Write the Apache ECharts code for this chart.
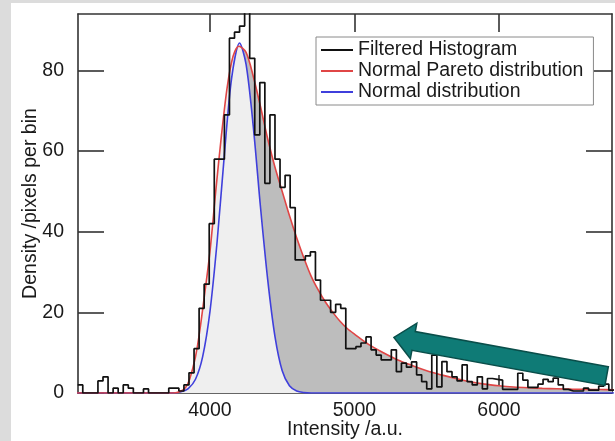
<!DOCTYPE html>
<html><head><meta charset="utf-8">
<script src="https://cdn.jsdelivr.net/npm/echarts@6/dist/echarts.min.js"></script>
<style>html,body{margin:0;padding:0;background:#dcdcdc;}#c{width:615px;height:441px;}</style>
</head><body><div id="c"></div>
<script>
// ---- data ----
const histStart = 3085;
const binWidth = 35;
const histCounts = [
  2, 0, 0, 0, 3, 4, 0, 1.2, 0, 2, 1.2, 0, 0, 1, 0, 0, 0, 0, 1.2, 1.2,
  0.5, 2, 5, 11, 21, 27, 42, 58, 58, 69, 88, 89.5, 91, 97, 83, 64, 77, 52, 69, 58,
  51, 54, 46, 33, 33, 34, 35, 28, 23, 23, 20, 22, 21, 11, 11, 11.5, 12.4, 13.9, 10.7, 9.4,
  8.2, 8.2, 10.7, 5.3, 7.4, 6.4, 7.7, 4.5, 2.8, 1, 9.4, 1.5, 7.8, 5.3, 4, 3, 7, 2.8, 2, 4,
  1, 3.6, 3.4, 3.2, 0.9, 0.9, 0.9, 4.9, 3.2, 1.4, 1.4, 2.2, 3.4, 2.8, 3.7, 2, 0.9, 0.5, 0.5, 0.5,
  1.2, 0.7, 0.7, 1.7, 2.2, 0.7
];
const paretoX = [3000, 3750, 3790, 3830, 3860, 3900, 3930, 3965, 4000, 4040, 4080, 4120, 4160, 4200, 4250,
  4300, 4350, 4400, 4450, 4500, 4550, 4600, 4650, 4700, 4750, 4800, 4850, 4900, 4950, 5000,
  5100, 5200, 5300, 5400, 5500, 5600, 5700, 5800, 5900, 6000, 6100, 6200, 6300, 6400, 6500, 6600, 6700, 6800];
const paretoY = [0, 0, 0.3, 1.3, 3.5, 9, 15.5, 25, 35, 50, 64, 76, 83.5, 86, 84.5,
  78.5, 71, 63, 56, 50, 44, 38.5, 33.5, 29, 25.5, 22.5, 20, 17.8, 16, 14.6,
  12, 10, 8.2, 6.8, 5.5, 4.5, 3.6, 2.8, 2.2, 1.8, 1.5, 1.3, 1.15, 1.05, 0.95, 0.9, 0.85, 0.8];
const normalX = [3000, 3750, 3800, 3850, 3900, 3950, 4000, 4050, 4100, 4150, 4205, 4250, 4300, 4350, 4400,
  4450, 4500, 4550, 4600, 4650, 4700, 6800];
const normalY = [0, 0, 0.3, 1.1, 3.4, 9.1, 20.2, 37.7, 59.2, 78.1, 86.8, 81.5, 66, 46, 28,
  14, 5.5, 1.8, 0.5, 0.1, 0, 0];
const xTicks = [4000, 5000, 6000];
const yTicks = [0, 20, 40, 60, 80];
const legendNames = ['Filtered Histogram', 'Normal Pareto distribution', 'Normal distribution'];
// arrow annotation anchor points (data units)
const arrowTip = [5273, 13.8];
const arrowTail = [6745, 4.2];

// ---- build ----
const FONT = 'Liberation Sans, Arial, Helvetica, sans-serif';
const FS = 19.5;
const TXT = '#1a1a1a';
const histData = histCounts.map((v, i) => [histStart + i * binWidth, v]);
histData.push([histStart + histCounts.length * binWidth, histCounts[histCounts.length - 1]]);
const paretoData = paretoX.map((x, i) => [x, paretoY[i]]);
const normalData = normalX.map((x, i) => [x, normalY[i]]);
const peakIdx = paretoY.indexOf(Math.max(...paretoY));
const paretoLeft = paretoData.slice(0, peakIdx + 1);
const paretoRight = paretoData.slice(peakIdx);

const AX = '#333333';
const AW = 1.6;
const fmt = v => String(v);
const chart = echarts.init(document.getElementById('c'), null, {renderer: 'canvas'});
const axisCommon = {
  type: 'value', min: 3087, max: 6782,
  axisLine: {show: true, onZero: false, lineStyle: {color: AX, width: AW}},
  splitLine: {show: false}
};
chart.setOption({
  backgroundColor: '#dcdcdc',
  animation: false,
  grid: {left: 78, right: 3, top: 14, bottom: 48, show: false, containLabel: false, outerBoundsMode: 'none'},
  legend: {
    data: legendNames, orient: 'vertical', left: 316, top: 37,
    padding: [3, 10, 3, 5], itemGap: 1, itemWidth: 32, itemHeight: 2, icon: 'rect',
    borderColor: '#8a8a8a', borderWidth: 1, backgroundColor: '#ffffff', selectedMode: false,
    textStyle: {fontSize: FS, lineHeight: 20, color: TXT, fontFamily: FONT}
  },
  xAxis: [
    Object.assign({}, axisCommon, {
      position: 'bottom',
      axisTick: {show: true, inside: true, length: 18, customValues: xTicks, lineStyle: {color: AX, width: AW}},
      axisLabel: {customValues: xTicks, formatter: fmt, fontSize: FS, color: TXT, fontFamily: FONT, margin: 8},
      name: 'Intensity /a.u.', nameLocation: 'middle', nameGap: 27, nameMoveOverlap: false,
      nameTextStyle: {fontSize: FS, color: TXT, fontFamily: FONT}
    }),
    Object.assign({}, axisCommon, {
      position: 'top',
      axisTick: {show: true, inside: true, length: 18, customValues: xTicks, lineStyle: {color: AX, width: AW}},
      axisLabel: {show: false}
    })
  ],
  yAxis: [
    {
      type: 'value', min: 0, max: 94, position: 'left',
      axisLine: {show: true, onZero: false, lineStyle: {color: AX, width: AW}},
      axisTick: {show: true, inside: true, length: 26, customValues: yTicks, lineStyle: {color: AX, width: AW}},
      axisLabel: {customValues: yTicks, formatter: fmt, fontSize: FS, color: TXT, fontFamily: FONT, margin: 14},
      splitLine: {show: false},
      name: 'Density /pixels per bin', nameLocation: 'middle', nameGap: 37, nameRotate: 90, nameMoveOverlap: false,
      nameTextStyle: {fontSize: FS, color: TXT, fontFamily: FONT}
    },
    {
      type: 'value', min: 0, max: 94, position: 'right',
      axisLine: {show: true, onZero: false, lineStyle: {color: AX, width: AW}},
      axisTick: {show: true, inside: true, length: 26, customValues: yTicks, lineStyle: {color: AX, width: AW}},
      axisLabel: {show: false}, splitLine: {show: false}
    }
  ],
  series: [
    {name: 'paretoFillRight', type: 'line', data: paretoRight, symbol: 'none', smooth: 0.3, silent: true,
      lineStyle: {width: 0, opacity: 0}, areaStyle: {color: '#bdbdbd', opacity: 1}, z: 1},
    {name: 'paretoFillLeft', type: 'line', data: paretoLeft, symbol: 'none', smooth: 0.3, silent: true,
      lineStyle: {width: 0, opacity: 0}, areaStyle: {color: '#efefef', opacity: 1}, z: 1},
    {name: 'Normal distribution', type: 'line', data: normalData, symbol: 'none', smooth: 0.3,
      color: '#3f3fdc', itemStyle: {color: '#3f3fdc'},
      lineStyle: {color: '#3f3fdc', width: 1.6}, areaStyle: {color: '#efefef', opacity: 1}, z: 2},
    {name: 'Normal Pareto distribution', type: 'line', data: paretoData, symbol: 'none', smooth: 0.3,
      color: '#e04646', itemStyle: {color: '#e04646'},
      lineStyle: {color: '#e04646', width: 1.6}, z: 3},
    {name: 'Filtered Histogram', type: 'line', data: histData, step: 'end', symbol: 'none',
      color: '#111111', itemStyle: {color: '#111111'},
      lineStyle: {color: '#111111', width: 1.7}, z: 4}
  ]
});

// background panel and arrow annotation
const tip = chart.convertToPixel({xAxisIndex: 0, yAxisIndex: 0}, arrowTip);
const tail = chart.convertToPixel({xAxisIndex: 0, yAxisIndex: 0}, arrowTail);
const dx = tip[0] - tail[0], dy = tip[1] - tail[1];
const L = Math.sqrt(dx * dx + dy * dy);
const ux = dx / L, uy = dy / L, nx = -uy, ny = ux;
const headLen = 20, sh = 9.5, hh = 18;
const bx = tip[0] - ux * headLen, by = tip[1] - uy * headLen;
const pts = [
  [tail[0] + nx * sh, tail[1] + ny * sh],
  [bx + nx * sh, by + ny * sh],
  [bx + nx * hh, by + ny * hh],
  [tip[0], tip[1]],
  [bx - nx * hh, by - ny * hh],
  [bx - nx * sh, by - ny * sh],
  [tail[0] - nx * sh, tail[1] - ny * sh]
];
chart.setOption({
  graphic: [
    {type: 'rect', z: -10, silent: true, shape: {x: 11, y: 3, width: 604, height: 438}, style: {fill: '#ffffff'}},
    {type: 'polygon', z: 100, silent: true, shape: {points: pts}, style: {fill: '#0f7b76', stroke: '#0a4e4a', lineWidth: 1.5}}
  ]
});
</script></body></html>
